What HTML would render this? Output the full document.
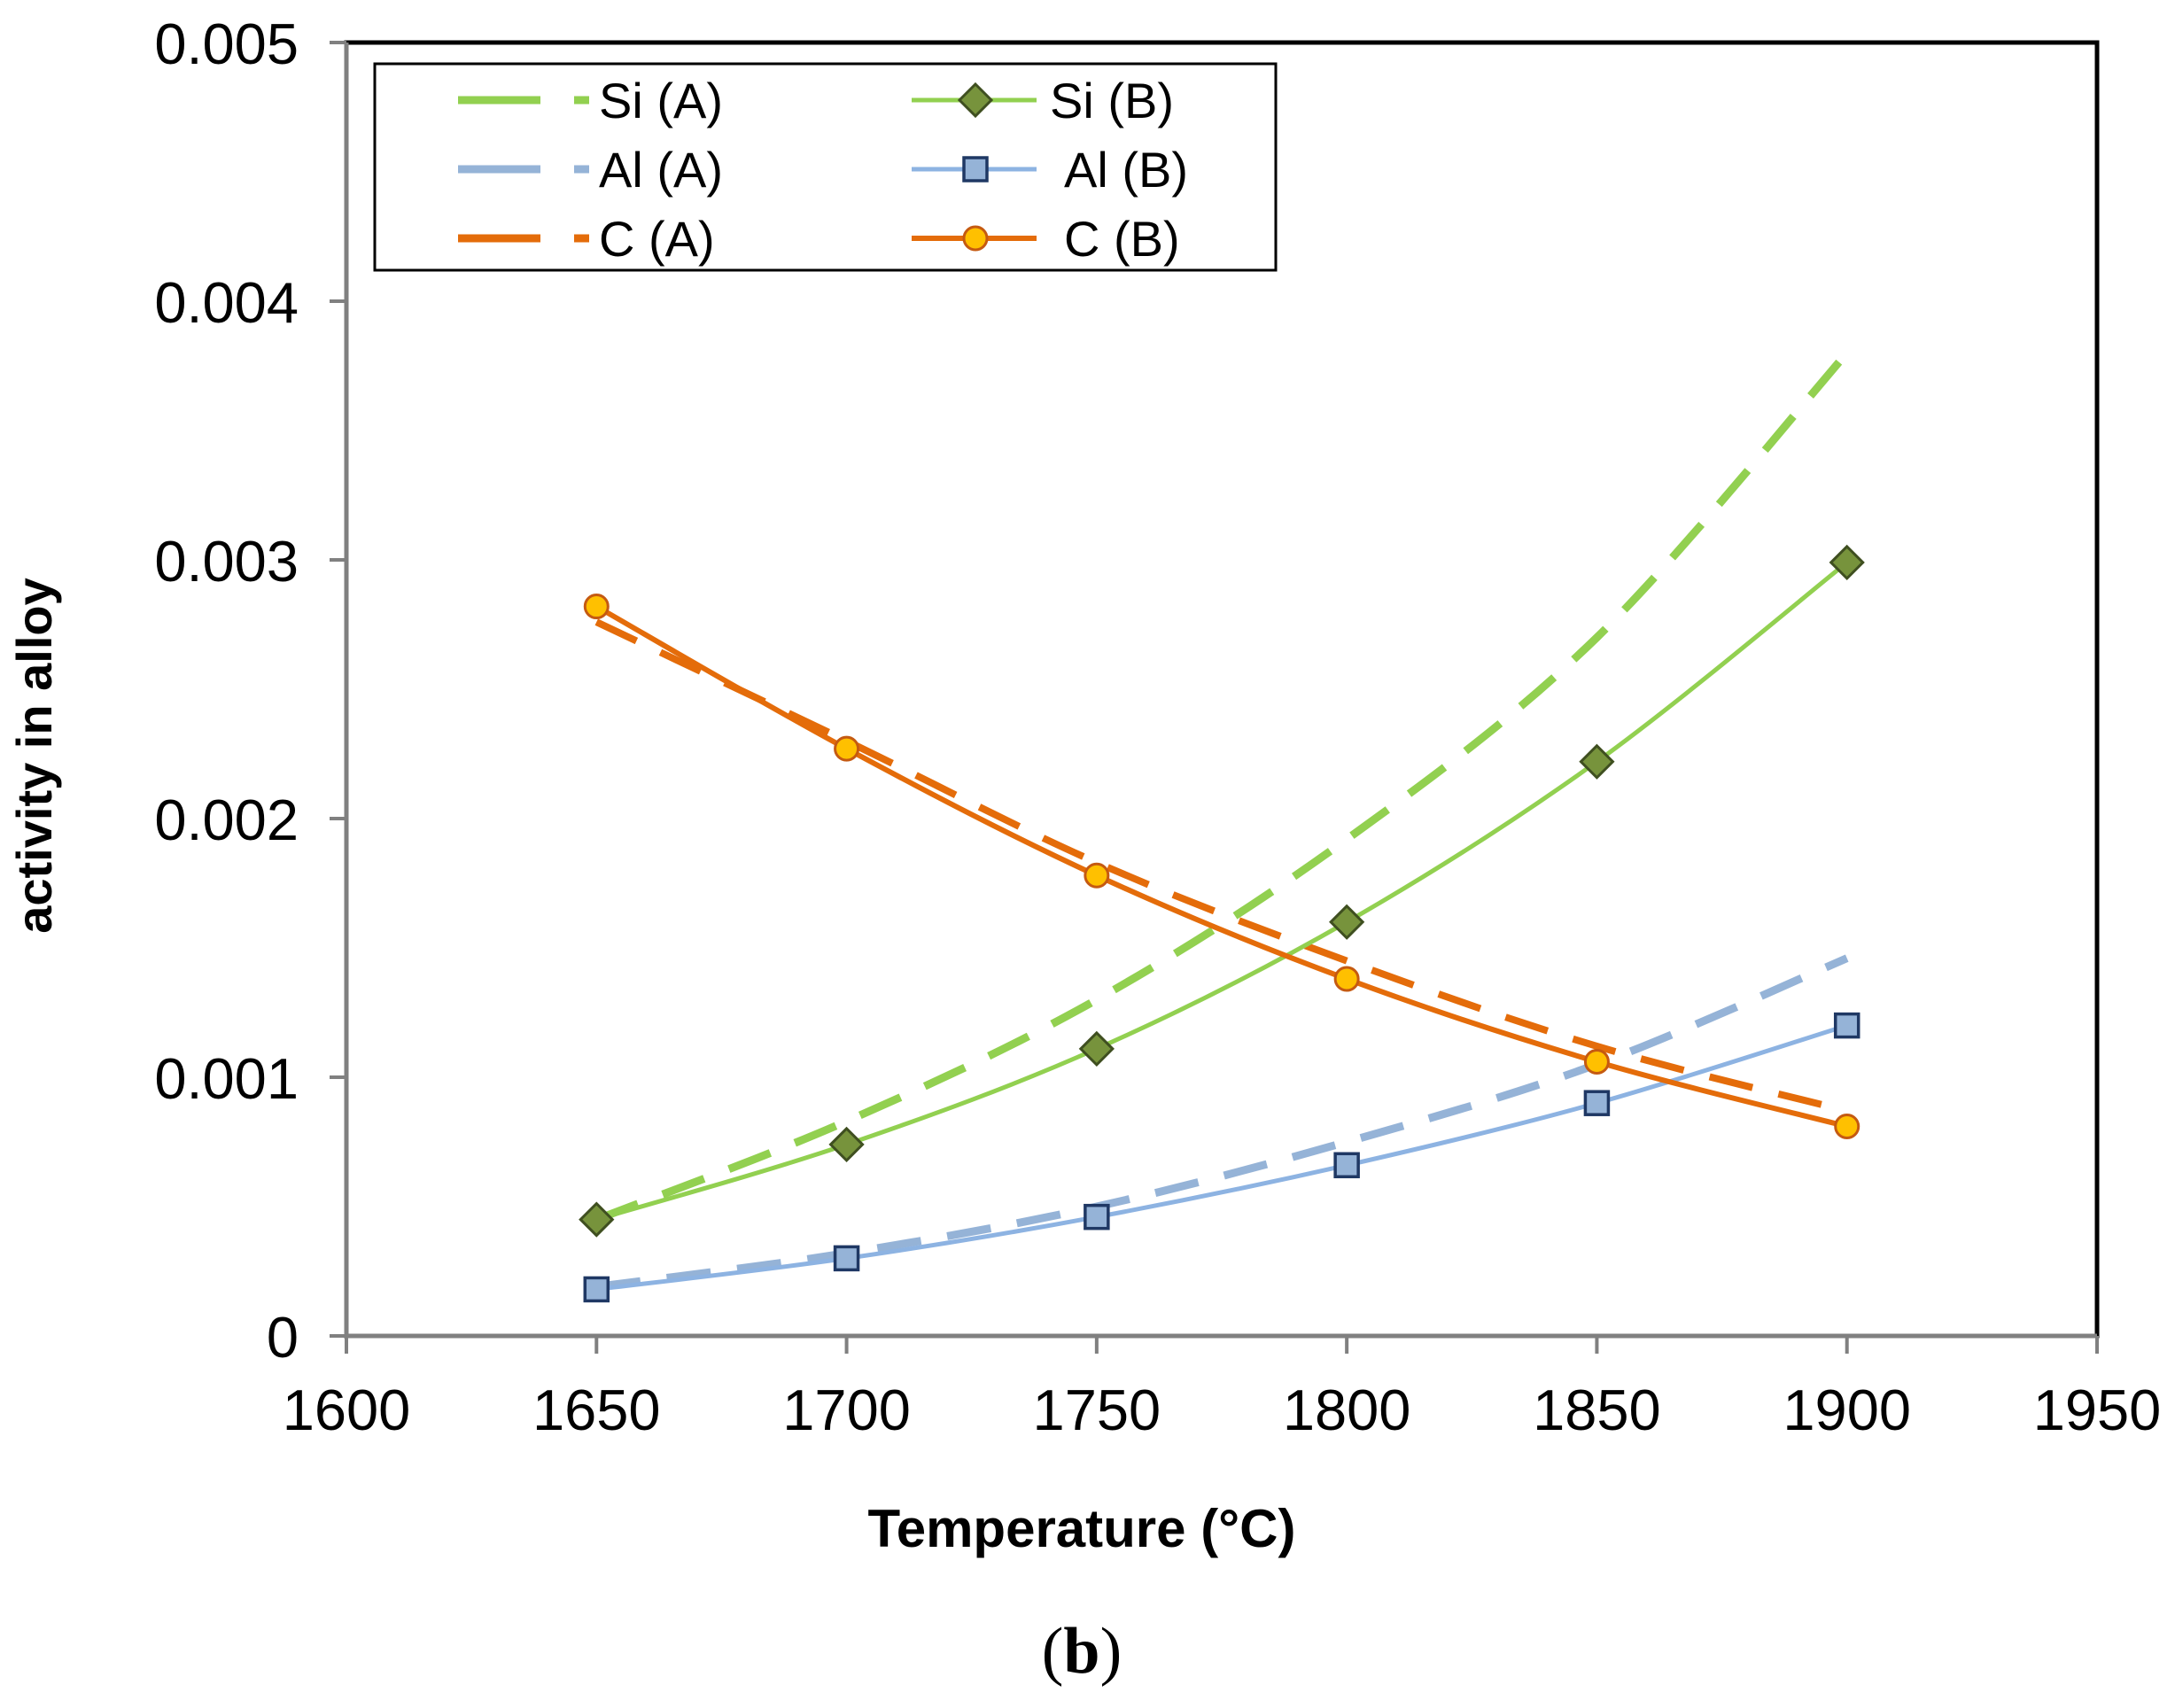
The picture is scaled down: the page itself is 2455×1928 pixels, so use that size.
<!DOCTYPE html>
<html><head><meta charset="utf-8"><style>
body{margin:0;background:#fff;}
svg text{font-family:"Liberation Sans",sans-serif;}
</style></head><body>
<svg width="2455" height="1923" viewBox="0 0 2455 1923" xmlns="http://www.w3.org/2000/svg">
<g id="axes"></g>
<g id="series"></g>
<g id="legend"></g>
<text x="58" y="853" font-size="56" font-weight="bold" text-anchor="middle" transform="rotate(-90 58 853)">activity in alloy</text>
<text x="1221" y="1746" font-size="60" font-weight="bold" text-anchor="middle">Temperature (°C)</text>
<text x="1221" y="1888" font-size="74" text-anchor="middle" style="font-family:'Liberation Serif',serif">(<tspan font-weight="bold">b</tspan>)</text>
</svg>
<script>
const temps=[1650,1700,1750,1800,1850,1900];
const siA=[0.00045,0.00083,0.0013,0.00192,0.0027,0.0038];
const siB=[0.00045,0.00074,0.00111,0.0016,0.00222,0.00299];
const alA=[0.00019,0.00032,0.0005,0.00075,0.00105,0.00146];
const alB=[0.00018,0.0003,0.00046,0.00066,0.0009,0.0012];
const cA=[0.00276,0.0023,0.00183,0.00145,0.00112,0.00087];
const cB=[0.00282,0.00227,0.00178,0.00138,0.00106,0.00081];
const xTicks=[1600,1650,1700,1750,1800,1850,1900,1950];
const yTicks=[0,0.001,0.002,0.003,0.004,0.005];
const yTickLabels=["0","0.001","0.002","0.003","0.004","0.005"];
const NS="http://www.w3.org/2000/svg";
const X0=391,X1=2367,Y0=1508,Y1=48;
const xs=v=>X0+(v-1600)/350*(X1-X0);
const ys=v=>Y0-(v/0.005)*(Y0-Y1);
function mk(tag,attrs,parent){const e=document.createElementNS(NS,tag);for(const k in attrs)e.setAttribute(k,attrs[k]);parent.appendChild(e);return e;}
const axes=document.getElementById('axes');
let fr=mk('rect',{x:X0,y:Y1,width:X1-X0,height:Y0-Y1,fill:'none',stroke:'#000','stroke-width':5},axes);


let ya=mk('line',{x1:X0,y1:Y1,x2:X0,y2:Y0,stroke:'#808080','stroke-width':5},axes);


let xa=mk('line',{x1:X0,y1:Y0,x2:X1,y2:Y0,stroke:'#808080','stroke-width':5},axes);


yTicks.forEach((v,i)=>{
 mk('line',{x1:372,y1:ys(v),x2:X0,y2:ys(v),stroke:'#808080','stroke-width':4},axes);
 const t=mk('text',{x:337,y:ys(v)+24,'font-size':65,'text-anchor':'end'},axes);
 t.textContent=yTickLabels[i];
 
 
});
xTicks.forEach(v=>{
 mk('line',{x1:xs(v),y1:Y0,x2:xs(v),y2:1528,stroke:'#808080','stroke-width':4},axes);
 const t=mk('text',{x:xs(v),y:1614,'font-size':65,'text-anchor':'middle'},axes);
 t.textContent=String(v);
 
 
});
function smooth(vals){
 const p=temps.map((t,i)=>[xs(t),ys(vals[i])]);
 let d='M'+p[0][0]+' '+p[0][1];
 for(let i=0;i<p.length-1;i++){
  const p0=p[i-1]||p[i],p1=p[i],p2=p[i+1],p3=p[i+2]||p[i+1];
  const c1=[p1[0]+(p2[0]-p0[0])/6,p1[1]+(p2[1]-p0[1])/6];
  const c2=[p2[0]-(p3[0]-p1[0])/6,p2[1]-(p3[1]-p1[1])/6];
  d+=` C${c1[0]} ${c1[1]} ${c2[0]} ${c2[1]} ${p2[0]} ${p2[1]}`;
 }
 return d;
}
const ser=document.getElementById('series');
function marker(type,cx,cy,fill,stroke,parent){
 let e;
 if(type==='diamond') e=mk('polygon',{points:`${cx},${cy-18} ${cx+18},${cy} ${cx},${cy+18} ${cx-18},${cy}`,fill,stroke,'stroke-width':3},parent);
 else if(type==='square') e=mk('rect',{x:cx-13,y:cy-13,width:26,height:26,fill,stroke,'stroke-width':3.5},parent);
 else e=mk('circle',{cx,cy,r:13,fill,stroke,'stroke-width':3},parent);
 return e;
}
const defs=[
 {vals:siA,color:'#92d050',w:9,dash:'50 30',name:'si-a-line'},
 {vals:alA,color:'#95b3d7',w:9,dash:'50 30',name:'al-a-line'},
 {vals:cA,color:'#e46c0a',w:8,dash:'50 30',name:'c-a-line'},
 {vals:siB,color:'#92d050',w:5,m:'diamond',mf:'#77933c',ms:'#3f4f20',name:'si-b-line'},
 {vals:alB,color:'#8db3e2',w:5,m:'square',mf:'#95b3d7',ms:'#1f3864',name:'al-b-line'},
 {vals:cB,color:'#e46c0a',w:6,m:'circle',mf:'#ffc000',ms:'#c55a11',name:'c-b-line'}
];
defs.forEach(s=>{
 const a={d:smooth(s.vals),fill:'none',stroke:s.color,'stroke-width':s.w};
 if(s.dash)a['stroke-dasharray']=s.dash;
 const p=mk('path',a,ser);
 
 
});
defs.forEach(s=>{
 if(!s.m)return;
 temps.forEach((t,i)=>{
  const e=marker(s.m,xs(t),ys(s.vals[i]),s.mf,s.ms,ser);
  
  
 });
});
const lg=document.getElementById('legend');
mk('rect',{x:423,y:72,width:1017,height:233,fill:'#fff',stroke:'#000','stroke-width':3},lg);
const rows=[113,191,269];
const la=[['Si (A)','#92d050'],['Al (A)','#95b3d7'],['C (A)','#e46c0a']];
const lb=[['Si (B)','#92d050','diamond','#77933c','#3f4f20',1185],['Al (B)','#8db3e2','square','#95b3d7','#1f3864',1201],['C (B)','#e46c0a','circle','#ffc000','#c55a11',1201]];
la.forEach((r,i)=>{
 const y=rows[i];
 mk('line',{x1:517,y1:y,x2:610,y2:y,stroke:r[1],'stroke-width':9},lg);
 mk('line',{x1:648,y1:y,x2:665,y2:y,stroke:r[1],'stroke-width':9},lg);
 const t=mk('text',{x:676,y:y+20,'font-size':56},lg);
 t.textContent=r[0];
 
 
});
lb.forEach((r,i)=>{
 const y=rows[i];
 mk('line',{x1:1029,y1:y,x2:1170,y2:y,stroke:r[1],'stroke-width':r[2]==='circle'?6:5},lg);
 marker(r[2],1101,y,r[3],r[4],lg);
 const t=mk('text',{x:r[5],y:y+20,'font-size':56},lg);
 t.textContent=r[0];
 
 
});
</script>
</body></html>
